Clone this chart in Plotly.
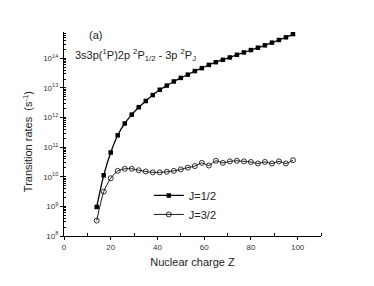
import plotly.graph_objects as go

# Data (log10 of transition rates)
z_half = [14, 17, 20, 23, 26, 29, 32, 35, 38, 41, 44, 47, 50, 53, 56, 59, 62, 65,
          68, 71, 74, 77, 80, 83, 86, 89, 92, 95, 98]
log_half = [8.98, 10.05, 10.82, 11.4, 11.8, 12.1, 12.35, 12.56, 12.76, 12.94, 13.08,
            13.22, 13.34, 13.45, 13.57, 13.67, 13.78, 13.87, 13.95, 14.03, 14.12,
            14.2, 14.28, 14.36, 14.44, 14.53, 14.62, 14.71, 14.82]
z_3half = [14, 17, 20, 23, 26, 29, 32, 35, 38, 41, 44, 47, 50, 53, 56, 59, 62, 65,
           68, 71, 74, 77, 80, 83, 86, 89, 92, 95, 98]
log_3half = [8.52, 9.5, 9.95, 10.2, 10.27, 10.27, 10.22, 10.18, 10.15, 10.15, 10.17,
             10.2, 10.25, 10.31, 10.36, 10.47, 10.38, 10.54, 10.47, 10.52, 10.54,
             10.52, 10.5, 10.45, 10.5, 10.45, 10.52, 10.45, 10.56]
rate_half = [10 ** v for v in log_half]
rate_3half = [10 ** v for v in log_3half]

ytick_vals = [1e8, 1e9, 1e10, 1e11, 1e12, 1e13, 1e14]
ytick_text = ["10<sup>%d</sup>" % e for e in range(8, 15)]
xtick_vals = [0, 20, 40, 60, 80, 100]

FONT = "Liberation Sans, Arial, sans-serif"

fig = go.Figure()
fig.add_trace(go.Scatter(
    x=z_half, y=rate_half, mode="lines+markers", name="J=1/2",
    line=dict(color="black", width=1.3, shape="spline", smoothing=0.8),
    marker=dict(symbol="square", size=4.5, color="black"),
))
fig.add_trace(go.Scatter(
    x=z_3half, y=rate_3half, mode="lines+markers", name="J=3/2",
    line=dict(color="black", width=0.9, shape="spline", smoothing=0.6),
    marker=dict(symbol="circle-open", size=5, color="black", line=dict(width=0.8)),
))

# page body has an 8px default margin, so the figure is shrunk by 8px
fig.update_layout(
    width=366, height=278,
    margin=dict(l=56, r=53, t=24, b=50),
    paper_bgcolor="white", plot_bgcolor="white",
    font=dict(family=FONT, color="#222"),
    showlegend=True,
    legend=dict(x=0.33, y=0.27, xanchor="left", yanchor="top",
                bgcolor="rgba(0,0,0,0)", font=dict(size=11, color="#222"),
                tracegroupgap=0, itemwidth=30),
)
fig.update_xaxes(
    automargin=False,
    range=[0, 110], tickvals=xtick_vals, ticks="outside", ticklen=3, tickwidth=1,
    tickcolor="black", showline=True, linecolor="black", linewidth=1.2,
    showgrid=False, zeroline=False, tickfont=dict(size=8, color="#333"),
    minor=dict(tickvals=[10, 30, 50, 70, 90, 110], ticks="inside", ticklen=3,
               tickcolor="black", showgrid=False),
    title=dict(text="Nuclear charge Z", font=dict(size=11, color="#222"), standoff=7),
)
fig.update_yaxes(
    automargin=False,
    type="log", range=[8, 14.89], tickvals=ytick_vals, ticktext=ytick_text,
    ticks="outside", ticklen=3, tickwidth=1, tickcolor="black",
    showline=True, linecolor="black", linewidth=1.2, showgrid=False, zeroline=False,
    tickfont=dict(size=8, color="#333"),
    minor=dict(dtick="D1", ticks="inside", ticklen=2, tickcolor="black", showgrid=False),
)

fig.add_annotation(x=-0.14, y=0.46, xref="paper", yref="paper",
                   text="Transition rates  (s<sup>-1</sup>)", textangle=-90,
                   showarrow=False, xanchor="center", yanchor="middle",
                   font=dict(size=11, color="#222"))
fig.add_annotation(x=0.09, y=0.985, xref="paper", yref="paper", text="(a)",
                   showarrow=False, xanchor="left", yanchor="middle",
                   font=dict(size=11, color="#222"))
fig.add_annotation(x=0.035, y=0.885, xref="paper", yref="paper",
                   text="3s3p(<sup>1</sup>P)2p <sup>2</sup>P<sub>1/2</sub> - 3p <sup>2</sup>P<sub>J</sub>",
                   showarrow=False, xanchor="left", yanchor="middle",
                   font=dict(size=11, color="#222"))

fig.write_html("out.html")
